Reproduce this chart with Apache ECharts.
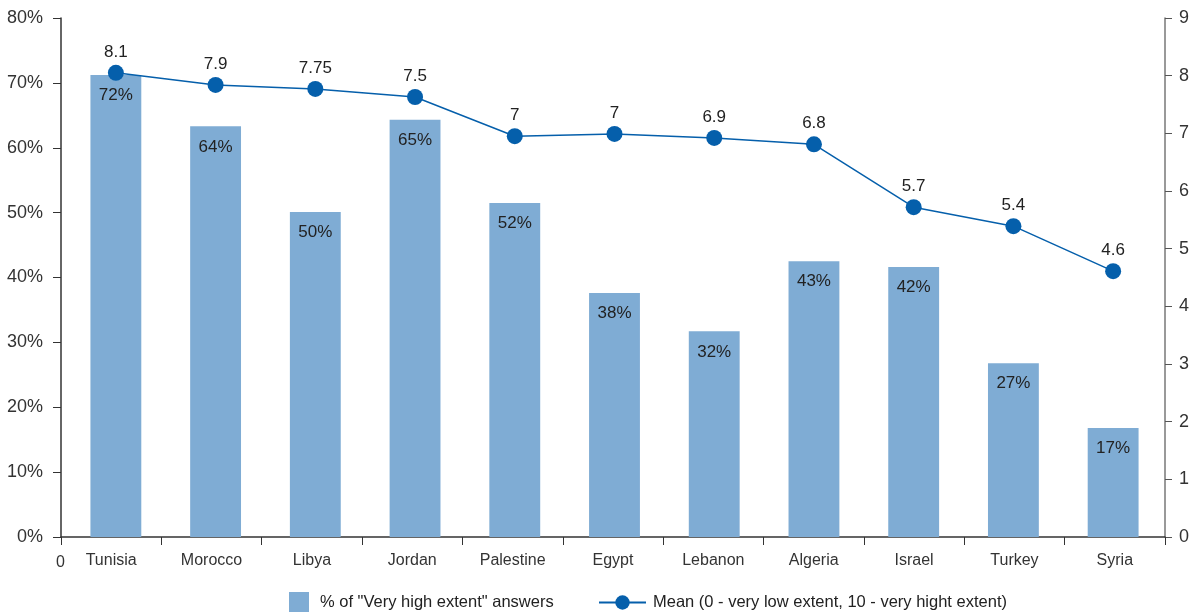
<!DOCTYPE html>
<html><head><meta charset="utf-8">
<script src="https://cdn.jsdelivr.net/npm/echarts@6/dist/echarts.min.js"></script>
<style>html,body{margin:0;padding:0;background:#fff}#c{width:1194px;height:615px}</style>
</head><body><div id="c"></div>
<script>
const categories = ['Tunisia','Morocco','Libya','Jordan','Palestine','Egypt','Lebanon','Algeria','Israel','Turkey','Syria'];
const pctValues = [71.2, 63.3, 50.1, 64.3, 51.5, 37.6, 31.7, 42.5, 41.6, 26.8, 16.8];
const pctLabels = ['72%','64%','50%','65%','52%','38%','32%','43%','42%','27%','17%'];
const meanValues = [8.05, 7.84, 7.77, 7.63, 6.95, 6.99, 6.92, 6.81, 5.72, 5.39, 4.61];
const meanLabels = ['8.1','7.9','7.75','7.5','7','7','6.9','6.8','5.7','5.4','4.6'];
const barName = '% of "Very high extent" answers';
const lineName = 'Mean (0 - very low extent, 10 - very hight extent)';

const font = 'Liberation Sans, Arial, sans-serif';
const barColor = '#7facd4';
const lineColor = '#055fab';
const chart = echarts.init(document.getElementById('c'));
chart.setOption({
  animation: false,
  textStyle: { fontFamily: font },
  grid: [
    { left: 61, right: 29, top: 18, bottom: 78, containLabel: false },
    { left: 66, right: 31, top: 18, bottom: 78, containLabel: false }
  ],
  legend: [
    {
      left: 289, top: 592, padding: 0, itemWidth: 20, itemHeight: 20,
      textStyle: { fontSize: 16.5, color: '#222', fontFamily: font, padding: [0, 0, 0, 6] },
      data: [{ name: barName, icon: 'rect', itemStyle: { color: barColor } }]
    },
    {
      left: 598, top: 594, padding: 0, itemWidth: 47, itemHeight: 18,
      textStyle: { fontSize: 16.5, color: '#222', fontFamily: font, padding: [0, 0, 0, 2] },
      data: [{ name: lineName }]
    }
  ],
  xAxis: [
    {
      type: 'category', gridIndex: 0, data: categories, boundaryGap: true,
      axisLine: { lineStyle: { color: '#333', width: 1.5 } },
      axisTick: { show: true, length: 8, lineStyle: { color: '#333' } },
      axisLabel: { fontSize: 16, color: '#333', margin: 16, fontFamily: font }
    },
    {
      type: 'category', gridIndex: 1, data: categories, boundaryGap: true, show: false
    }
  ],
  yAxis: [
    {
      type: 'value', gridIndex: 0, min: 0, max: 80, interval: 10, position: 'left',
      axisLine: { show: true, lineStyle: { color: '#333', width: 1.5 } },
      axisTick: { show: true, length: 8, lineStyle: { color: '#333' } },
      axisLabel: { formatter: '{value}%', fontSize: 18, color: '#333', margin: 18, fontFamily: font },
      splitLine: { show: false }
    },
    {
      type: 'value', gridIndex: 0, min: 0, max: 9, interval: 1, position: 'right',
      axisLine: { show: true, lineStyle: { color: '#777', width: 1.5 } },
      axisTick: { show: true, length: 7, lineStyle: { color: '#555' } },
      axisLabel: { fontSize: 18, color: '#333', margin: 14, fontFamily: font },
      splitLine: { show: false }
    },
    { type: 'value', gridIndex: 1, min: 0, max: 80, interval: 10, show: false, splitLine: { show: false } },
    { type: 'value', gridIndex: 1, min: 0, max: 9, interval: 1, show: false, splitLine: { show: false } }
  ],
  graphic: [
    { type: 'text', left: 56, top: 555, style: { text: '0', fontSize: 16, fill: '#333', fontFamily: font } }
  ],
  series: [
    {
      name: barName, type: 'bar', xAxisIndex: 1, yAxisIndex: 2, data: pctValues, barWidth: '51%',
      itemStyle: { color: barColor },
      label: {
        show: true, position: 'insideTop', distance: 12, fontSize: 17, color: '#222', fontFamily: font,
        formatter: p => pctLabels[p.dataIndex]
      }
    },
    {
      name: lineName, type: 'line', xAxisIndex: 1, yAxisIndex: 3, data: meanValues,
      symbol: 'circle', symbolSize: 16,
      lineStyle: { color: lineColor, width: 1.5 },
      itemStyle: { color: lineColor },
      label: {
        show: true, position: 'top', distance: 4, fontSize: 17, color: '#222', fontFamily: font,
        formatter: p => meanLabels[p.dataIndex]
      }
    }
  ]
});
</script></body></html>
